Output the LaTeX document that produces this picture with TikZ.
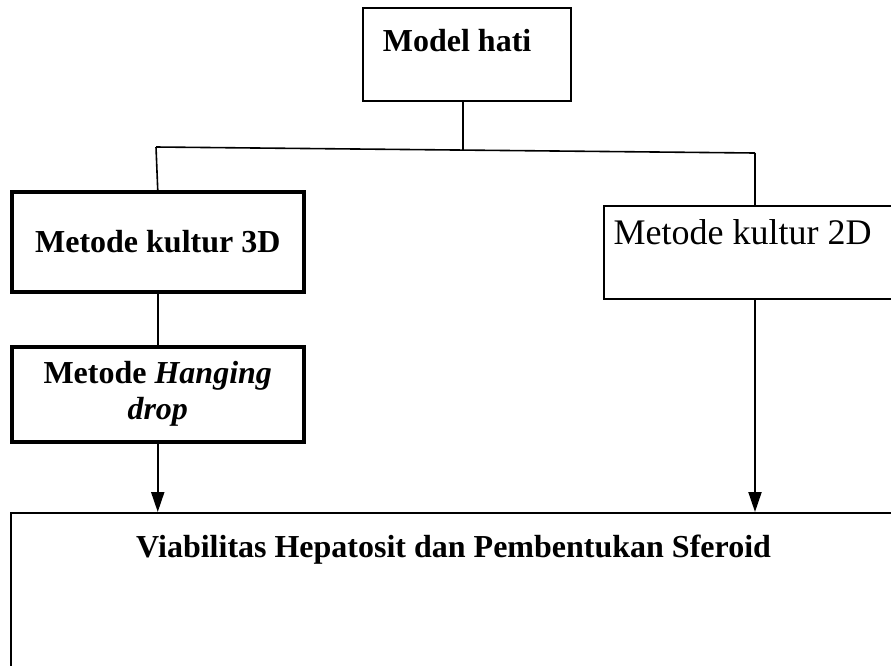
\documentclass[tikz,border=0pt]{standalone}
\usepackage{fontspec}
\setmainfont{Liberation Serif}
\usetikzlibrary{arrows.meta}
\tikzstyle{thinbox} = [
    rectangle,
    anchor=north west,
    inner sep=0pt,
    line width=2.2pt,
    draw=black
]
\tikzstyle{thickbox} = [
    rectangle,
    anchor=north west,
    inner sep=0pt,
    line width=3.5pt,
    draw=black
]
\tikzstyle{bftext} = [font=\bfseries\fontsize{32}{36}\selectfont]
\tikzstyle{rmtext} = [font=\fontsize{36}{40}\selectfont]
\tikzstyle{line} = [line width=1.6pt]
\tikzstyle{arrow} = [line width=2pt,-{Triangle[length=20pt,width=13pt]}]

\begin{document}
\begin{tikzpicture}[x=1pt,y=-1pt]
\clip (0,0) rectangle (891,665);

\node (hati) [thinbox, bftext, minimum width=208pt,
    text height=43pt, text depth=50pt] at (362,7)
{Model hati\hspace*{20pt}};

\node (k3d) [thickbox, bftext, minimum width=292pt,
    minimum height=100pt] at (10,190) {Metode kultur 3D};

\node (k2d) [thinbox, rmtext, minimum width=300pt,
    text height=38pt, text depth=55pt] at (603,205)
{Metode kultur 2D\hspace*{23pt}};

\node (hang) [thickbox, bftext, minimum width=292pt, minimum height=95pt,
    align=center] at (10,345) {Metode \textit{Hanging}\\\textit{drop}};

\node (sfer) [thinbox, bftext, minimum width=885pt,
    text height=44pt, text depth=160pt] at (10,512)
{Viabilitas Hepatosit dan Pembentukan Sferoid};

\coordinate (jl) at (156,147);
\coordinate (jm) at (463,150);
\coordinate (jr) at (755,153);

\draw [line] (hati.south -| jm) -- (jm);
\draw [line] (jl) -- (jr);
\draw [line] (jl) -- (k3d.north);
\draw [line] (jr) -- (jr |- k2d.north);
\draw [line] (k3d) -- (hang);

\draw [arrow] (hang.south) -- (hang.south |- sfer.north);
\draw [arrow] (jr |- k2d.south) -- (jr |- sfer.north);

\end{tikzpicture}
\end{document}
